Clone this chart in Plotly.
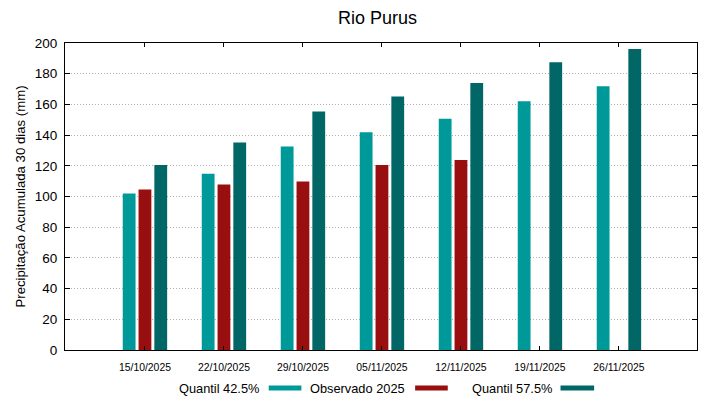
import plotly.graph_objects as go

dates = ["15/10/2025", "22/10/2025", "29/10/2025", "05/11/2025",
         "12/11/2025", "19/11/2025", "26/11/2025"]
q425 = [101.9, 114.9, 132.5, 141.8, 150.6, 162.1, 171.9]
obs2025 = [104.5, 107.8, 109.7, 120.6, 123.8, None, None]
q575 = [120.6, 135.1, 155.4, 165.1, 174.0, 187.5, 196.1]
series_names = ["Quantil 42.5%", "Observado 2025", "Quantil 57.5%"]
colors = ["#009999", "#990f0f", "#006666"]
y_ticks = [0, 20, 40, 60, 80, 100, 120, 140, 160, 180, 200]

# page has an 8px body margin; compensate so the chart lands where the reference has it
OFF = 8
W, H = 719 - OFF, 399 - OFF
L, R, T, B = 58 - OFF, 22, 43 - OFF, 49
pw, ph = W - L - R, H - T - B

fig = go.Figure()
for name, vals, c in zip(series_names, [q425, obs2025, q575], colors):
    fig.add_trace(go.Bar(x=dates, y=vals, name=name, marker_color=c,
                         marker_line_width=0, showlegend=False))

fig.update_layout(
    width=W, height=H,
    margin=dict(l=L, r=R, t=T, b=B),
    plot_bgcolor="white", paper_bgcolor="white",
    barmode="group", bargap=0.4, bargroupgap=0.19,
    font=dict(family="Liberation Sans, Arial, sans-serif", color="#000000"),
    title=dict(text="Rio Purus", x=(L + pw / 2) / W, xanchor="center",
               y=1 - (18 - OFF) / H, yanchor="middle", font=dict(size=18)),
)
fig.update_xaxes(
    type="category", range=[-1.012, 6.988],
    showline=True, linecolor="#000000", linewidth=1, mirror="allticks",
    ticks="inside", ticklen=4, tickcolor="#000000",
    tickfont=dict(size=10.4), showgrid=False, ticklabelstandoff=8,
)
fig.update_yaxes(
    range=[0, 200], tickvals=y_ticks,
    showline=True, linecolor="#000000", linewidth=1, mirror="allticks",
    ticks="inside", ticklen=5, tickcolor="#000000",
    tickfont=dict(size=13.5), ticklabelstandoff=4,
    showgrid=True, gridcolor="#b0b0b0", griddash="1px,2px", gridwidth=1,
    zeroline=False,
    title=dict(text="Precipitação Acumulada 30 dias (mm)", font=dict(size=13.2), standoff=6),
)

# gnuplot-style legend: text followed by sample line
leg_y = 388 - OFF
entries = [(256, 264, 297), (404, 412, 445), (552, 559, 593)]
for (tx, s0, s1), name, c in zip(entries, series_names, colors):
    fig.add_annotation(xref="paper", yref="paper", x=(tx - 58) / pw, y=(H - B - leg_y) / ph,
                       text=name, showarrow=False, xanchor="right", yanchor="middle",
                       font=dict(size=12.8))
    fig.add_shape(type="line", xref="paper", yref="paper",
                  x0=(s0 - 58) / pw, x1=(s1 - 58) / pw,
                  y0=(H - B - leg_y) / ph, y1=(H - B - leg_y) / ph,
                  line=dict(color=c, width=5))

fig.write_html("out.html")
